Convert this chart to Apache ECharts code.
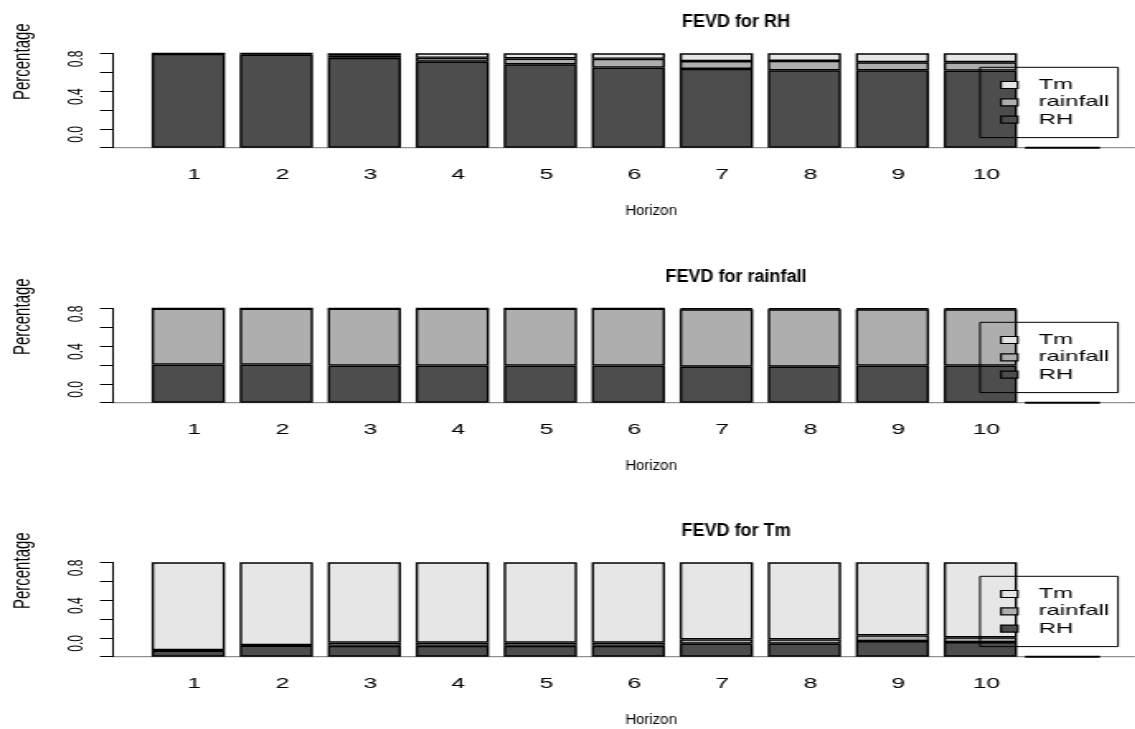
<!DOCTYPE html>
<html>
<head>
<meta charset="utf-8">
<script src="https://cdn.jsdelivr.net/npm/echarts@6/dist/echarts.min.js"></script>
<style>
  html, body { margin: 0; padding: 0; background: #fff; overflow: hidden; }
  /* the plot is laid out narrow and widened horizontally, like the original device output */
  #chart { width: 688px; height: 729px; transform: scaleX(1.65); transform-origin: 0 0; }
</style>
</head>
<body>
<div id="chart"></div>
<script>
// forecast horizons
const horizons = ['1', '2', '3', '4', '5', '6', '7', '8', '9', '10'];
const yTickLabels = ['0.0', '', '0.4', '', '0.8', ''];

// FEVD for RH
const rhShareRH   = [0.995, 0.986, 0.952, 0.911, 0.883, 0.849, 0.835, 0.820, 0.820, 0.817];
const rhShareRain = [0.004, 0.012, 0.028, 0.041, 0.062, 0.093, 0.083, 0.099, 0.085, 0.088];
const rhShareTm   = [0.001, 0.002, 0.020, 0.048, 0.055, 0.058, 0.082, 0.081, 0.095, 0.095];

// FEVD for rainfall
const rainShareRH   = [0.404, 0.404, 0.393, 0.393, 0.393, 0.393, 0.382, 0.382, 0.393, 0.393];
const rainShareRain = [0.594, 0.594, 0.604, 0.604, 0.604, 0.604, 0.608, 0.608, 0.597, 0.597];
const rainShareTm   = [0.002, 0.002, 0.003, 0.003, 0.003, 0.003, 0.010, 0.010, 0.010, 0.010];

// FEVD for Tm
const tmShareRH   = [0.065, 0.117, 0.115, 0.115, 0.115, 0.115, 0.138, 0.138, 0.165, 0.155];
const tmShareRain = [0.005, 0.005, 0.035, 0.035, 0.035, 0.035, 0.045, 0.045, 0.060, 0.050];
const tmShareTm   = [0.930, 0.878, 0.850, 0.850, 0.850, 0.850, 0.817, 0.817, 0.775, 0.795];

const panels = [
  { title: 'FEVD for RH',       RH: rhShareRH,   rainfall: rhShareRain,   Tm: rhShareTm },
  { title: 'FEVD for rainfall', RH: rainShareRH, rainfall: rainShareRain, Tm: rainShareTm },
  { title: 'FEVD for Tm',       RH: tmShareRH,   rainfall: tmShareRain,   Tm: tmShareTm }
];

const colors = { RH: '#4D4D4D', rainfall: '#AEAEAE', Tm: '#E6E6E6' };
const FONT = "'Liberation Sans', Arial, Helvetica, sans-serif";

// layout (page pixels; horizontal values are divided by the widening factor)
const STRETCH = 1.65;
const sx = v => v / STRETCH;
const baselines = [147.7, 402.7, 656.7];
const plotH = 94.4;
const plotLeft = 144.3, plotRight = 1024.4, axisX = 113;

const grid = [], xAxis = [], yAxis = [], series = [], legend = [], graphic = [];

panels.forEach((p, i) => {
  const base = baselines[i];
  grid.push({ left: sx(plotLeft), width: sx(plotRight - plotLeft), top: base - plotH, height: plotH });

  xAxis.push({
    type: 'category', gridIndex: i, data: horizons,
    axisLine: { show: false }, axisTick: { show: false }, splitLine: { show: false },
    axisLabel: { fontSize: 15, color: '#000', fontFamily: FONT, margin: 20, padding: [0, 0, 0, 7.2] }
  });

  yAxis.push({
    type: 'value', gridIndex: i, min: 0, max: 1, interval: 0.2,
    offset: sx(plotLeft - axisX),
    axisLine: { show: true, lineStyle: { color: '#000', width: 1 } },
    axisTick: { show: true, length: sx(13), lineStyle: { color: '#000', width: 1 } },
    splitLine: { show: false },
    axisLabel: {
      rotate: 90, align: 'left', margin: 16, fontSize: 12, color: '#000', fontFamily: FONT,
      padding: [0, 0, 0, 5],
      formatter: v => yTickLabels[Math.round(v * 5)]
    }
  });

  ['RH', 'rainfall', 'Tm'].forEach(name => {
    series.push({
      type: 'bar', name, xAxisIndex: i, yAxisIndex: i, stack: 'fevd' + i,
      data: p[name], barCategoryGap: '16.7%',
      itemStyle: { color: colors[name], borderColor: '#000', borderWidth: 1.4 },
      emphasis: { disabled: true }, animation: false
    });
  });

  legend.push({
    data: ['Tm', 'rainfall', 'RH'], orient: 'vertical', selectedMode: false,
    left: sx(980), top: base - 80.4,
    icon: 'rect', itemWidth: sx(16.7), itemHeight: 7, itemGap: 1.3,
    itemStyle: { borderColor: '#000', borderWidth: 1.2 },
    padding: [9.7, 5.4, 10, sx(20)],
    borderColor: '#000', borderWidth: 1, backgroundColor: 'transparent',
    textStyle: { fontSize: 14.5, lineHeight: 16, color: '#000', fontFamily: FONT, padding: [0, 0, 0, 7.7] }
  });

  graphic.push(
    { type: 'line', z: -1, shape: { x1: sx(axisX), y1: base, x2: sx(1135), y2: base },
      style: { stroke: '#777', lineWidth: 1 } },
    { type: 'line', shape: { x1: sx(1025), y1: base, x2: sx(1100), y2: base },
      style: { stroke: '#000', lineWidth: 2 } },
    // panel title and x-axis name keep their natural width (undo the widening)
    { type: 'text', x: sx(736), y: base - 125.7, scaleX: 1 / STRETCH,
      style: { text: p.title, fontSize: 18, fontWeight: 'bold', fontFamily: FONT, fill: '#000', align: 'center', verticalAlign: 'middle' } },
    { type: 'text', x: sx(651), y: base + 63.3, scaleX: 1 / STRETCH,
      style: { text: 'Horizon', fontSize: 15, fontFamily: FONT, fill: '#000', align: 'center', verticalAlign: 'middle' } },
    { type: 'text', x: sx(23.3), y: base - 86, rotation: Math.PI / 2,
      style: { text: 'Percentage', fontSize: 15, fontFamily: FONT, fill: '#000', align: 'center', verticalAlign: 'middle' } }
  );
});

const chart = echarts.init(document.getElementById('chart'), null, { renderer: 'canvas' });
chart.setOption({
  backgroundColor: '#fff', animation: false,
  grid, xAxis, yAxis, series, legend, graphic
});
</script>
</body>
</html>
